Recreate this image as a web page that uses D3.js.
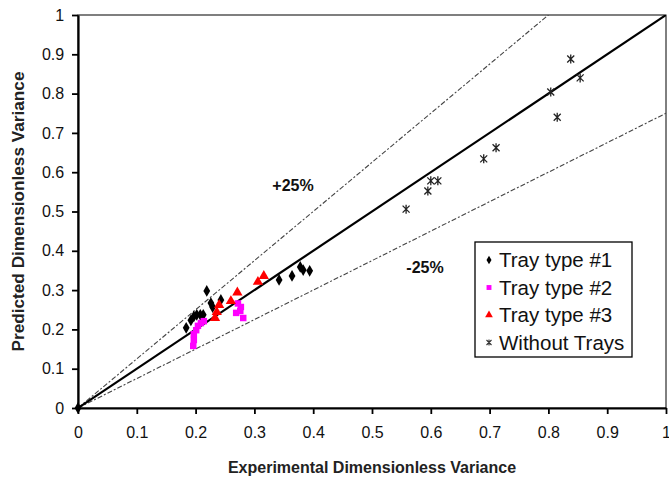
<!DOCTYPE html>
<html>
<head>
<meta charset="utf-8">
<script src="https://cdn.jsdelivr.net/npm/d3@7"></script>
<style>
  html, body { margin: 0; padding: 0; background: #fff; }
  svg { display: block; font-family: Arial, "Liberation Sans", sans-serif; }
</style>
</head>
<body>
<div id="chart"></div>
<script>
// Experimental vs predicted dimensionless variance, by tray configuration
const trayType1 = [
  [0.000, 0.000], [0.184, 0.204], [0.192, 0.223], [0.197, 0.233], [0.202, 0.237],
  [0.208, 0.237], [0.213, 0.237], [0.219, 0.298], [0.226, 0.267], [0.229, 0.257],
  [0.243, 0.275], [0.342, 0.326], [0.364, 0.336], [0.378, 0.359], [0.383, 0.351],
  [0.394, 0.349]
];
const trayType2 = [
  [0.196, 0.158], [0.197, 0.173], [0.197, 0.188], [0.201, 0.198], [0.204, 0.209],
  [0.209, 0.216], [0.214, 0.221], [0.269, 0.242], [0.272, 0.266], [0.276, 0.247],
  [0.277, 0.257], [0.281, 0.229]
];
const trayType3 = [
  [0.233, 0.229], [0.236, 0.244], [0.240, 0.262], [0.260, 0.272], [0.271, 0.294],
  [0.306, 0.321], [0.316, 0.336]
];
const withoutTrays = [
  [0.558, 0.506], [0.595, 0.552], [0.600, 0.578], [0.612, 0.578], [0.690, 0.634],
  [0.711, 0.662], [0.804, 0.804], [0.815, 0.740], [0.838, 0.888], [0.854, 0.840]
];
const tickValues = [0, 0.1, 0.2, 0.3, 0.4, 0.5, 0.6, 0.7, 0.8, 0.9, 1];
const bandFactors = [1.25, 0.75];   // ±25% deviation lines
const legendLabels = ["Tray type #1", "Tray type #2", "Tray type #3", "Without Trays"];

const W = 669, H = 481;
const m = { left: 78, right: 3, top: 15, bottom: 73 };

const svg = d3.select("#chart").append("svg").attr("width", W).attr("height", H);

const x = d3.scaleLinear().domain([0, 1]).range([m.left, W - m.right]);
const y = d3.scaleLinear().domain([0, 1]).range([H - m.bottom, m.top]);

// plot-area frame
svg.append("rect")
  .attr("x", x(0)).attr("y", y(1))
  .attr("width", x(1) - x(0)).attr("height", y(0) - y(1))
  .attr("fill", "none").attr("stroke", "#000").attr("stroke-width", 1);

// axes
const fmt = d => d === 0 ? "0" : d === 1 ? "1" : d3.format(".1f")(d);
const xAxis = svg.append("g").attr("transform", `translate(0,${y(0)})`)
  .call(d3.axisBottom(x).tickValues(tickValues).tickFormat(fmt).tickSize(6).tickSizeOuter(0));
const yAxis = svg.append("g").attr("transform", `translate(${x(0)},0)`)
  .call(d3.axisLeft(y).tickValues(tickValues).tickFormat(fmt).tickSize(6).tickSizeOuter(0));

[xAxis, yAxis].forEach(g => {
  g.select(".domain").attr("stroke", "#000").attr("stroke-width", 2.2);
  g.selectAll(".tick line").attr("stroke", "#000").attr("stroke-width", 1.8);
  g.selectAll(".tick text").attr("fill", "#111").attr("font-size", 16)
    .attr("font-family", "Arial, 'Liberation Sans', sans-serif");
});
xAxis.selectAll(".tick text").attr("dy", "1.3em");
yAxis.selectAll(".tick text").attr("dx", "-0.3em");

// ±25% lines, clipped to the plot area
svg.append("clipPath").attr("id", "plotClip").append("rect")
  .attr("x", x(0)).attr("y", y(1)).attr("width", x(1) - x(0)).attr("height", y(0) - y(1));

const plot = svg.append("g").attr("clip-path", "url(#plotClip)");
const lineGen = d3.line().x(d => x(d[0])).y(d => y(d[1]));

bandFactors.forEach(k => {
  plot.append("path")
    .datum([[0, 0], [1, k]])
    .attr("d", lineGen)
    .attr("fill", "none").attr("stroke", "#444").attr("stroke-width", 1.1)
    .attr("stroke-dasharray", "5,2,2,2");
});

// perfect-agreement line
plot.append("path")
  .datum([[0, 0], [1, 1]])
  .attr("d", lineGen)
  .attr("fill", "none").attr("stroke", "#000").attr("stroke-width", 2.2);

// marker shapes
const diamond = d3.symbol().type(d3.symbolDiamond).size(40);
const square = d3.symbol().type(d3.symbolSquare).size(42);
const triangle = d3.symbol().type(d3.symbolTriangle).size(46);
const starPath = "M-3.5,-3.5L3.5,3.5M-3.5,3.5L3.5,-3.5M0,-4.5L0,4.5";

function drawSeries(data, shape) {
  const g = svg.append("g");
  data.forEach(d => {
    const s = g.append("path").attr("transform", `translate(${x(d[0])},${y(d[1])})`);
    shape(s);
  });
}

drawSeries(trayType1, s => s.attr("d", diamond()).attr("fill", "#000"));
drawSeries(trayType2, s => s.attr("d", square()).attr("fill", "#ff00ff"));
drawSeries(trayType3, s => s.attr("d", triangle()).attr("fill", "#ff0000"));
drawSeries(withoutTrays, s => s.attr("d", starPath).attr("fill", "none")
  .attr("stroke", "#222").attr("stroke-width", 1.3));

// band annotations
svg.append("text").attr("x", 293).attr("y", 191).attr("text-anchor", "middle")
  .attr("font-size", 16).attr("font-weight", "bold").attr("fill", "#111").text("+25%");
svg.append("text").attr("x", 425).attr("y", 273).attr("text-anchor", "middle")
  .attr("font-size", 16).attr("font-weight", "bold").attr("fill", "#111").text("-25%");

// legend
const legend = svg.append("g").attr("transform", "translate(475,242)");
legend.append("rect").attr("width", 157).attr("height", 115)
  .attr("fill", "#fff").attr("stroke", "#000").attr("stroke-width", 1.3);
const legendShapes = [
  s => s.attr("d", d3.symbol().type(d3.symbolDiamond).size(22)()).attr("fill", "#000"),
  s => s.attr("d", d3.symbol().type(d3.symbolSquare).size(24)()).attr("fill", "#ff00ff"),
  s => s.attr("d", d3.symbol().type(d3.symbolTriangle).size(26)()).attr("fill", "#ff0000"),
  s => s.attr("d", "M-2.5,-2.5L2.5,2.5M-2.5,2.5L2.5,-2.5M0,-3L0,3").attr("fill", "none")
        .attr("stroke", "#333").attr("stroke-width", 1.1)
];
legendLabels.forEach((label, i) => {
  const cy = 18 + i * 27.5;
  legendShapes[i](legend.append("path").attr("transform", `translate(14,${cy})`));
  legend.append("text").attr("x", 24).attr("y", cy).attr("dy", "0.36em")
    .attr("font-size", 20.5).attr("fill", "#111").text(label);
});

// axis titles
svg.append("text").attr("x", 372).attr("y", 473).attr("text-anchor", "middle")
  .attr("font-size", 16).attr("font-weight", "bold").attr("fill", "#222")
  .text("Experimental Dimensionless Variance");
svg.append("text").attr("transform", `translate(24,${(y(0) + y(1)) / 2}) rotate(-90)`)
  .attr("text-anchor", "middle")
  .attr("font-size", 17.2).attr("font-weight", "bold").attr("fill", "#222")
  .text("Predicted Dimensionless Variance");
</script>
</body>
</html>
